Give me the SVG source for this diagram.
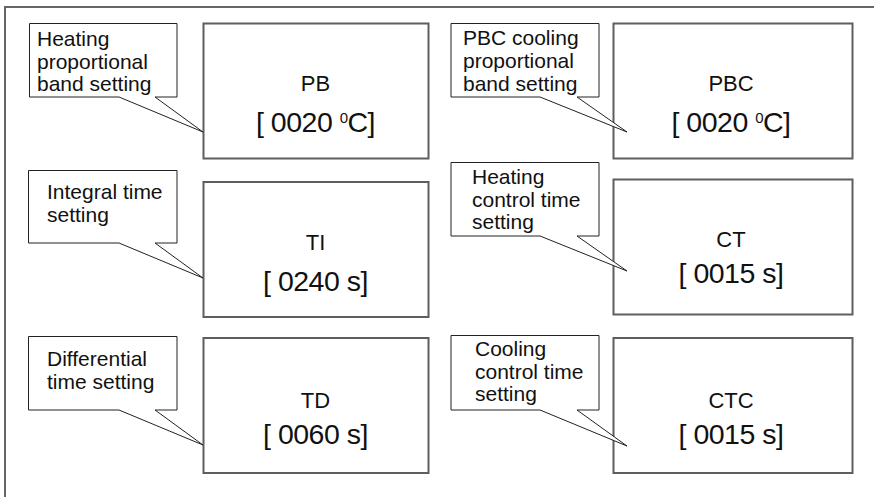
<svg xmlns="http://www.w3.org/2000/svg" width="874" height="497" viewBox="0 0 874 497">
<style>
.frame{fill:none;stroke:#666;stroke-width:2}
.box{fill:#fff;stroke:#5e5e5e;stroke-width:2}
.call{fill:#fff;stroke:#222;stroke-width:1}
.lbl{font-family:"Liberation Sans",Arial,Helvetica,sans-serif;font-size:21px;fill:#111}
.name{font-family:"Liberation Sans",Arial,Helvetica,sans-serif;font-size:22px;fill:#111;text-anchor:middle}
.val{font-family:"Liberation Sans",Arial,Helvetica,sans-serif;font-size:28.5px;letter-spacing:-0.5px;fill:#111;text-anchor:middle}
</style>
<rect width="874" height="497" fill="#fff"/>
<g id="frame">
<path class="frame" d="M5,497 V7 H874"/>
</g>
<g id="pb">
<rect class="box" x="203.5" y="23.5" width="225" height="135"/>
<text class="name" x="315.5" y="91">PB</text>
<text class="val" x="315.5" y="132">[ 0020 <tspan font-size="15" dy="-9">0</tspan><tspan dy="9">C]</tspan></text>
</g>
<g id="pbc">
<rect class="box" x="613.5" y="23.5" width="239" height="135"/>
<text class="name" x="731" y="91">PBC</text>
<text class="val" x="731" y="132">[ 0020 <tspan font-size="15" dy="-9">0</tspan><tspan dy="9">C]</tspan></text>
</g>
<g id="ti">
<rect class="box" x="203.5" y="182" width="225" height="135"/>
<text class="name" x="315.5" y="250">TI</text>
<text class="val" x="315.5" y="290.5">[ 0240 s]</text>
</g>
<g id="ct">
<rect class="box" x="613.5" y="179.5" width="239" height="135"/>
<text class="name" x="731" y="247">CT</text>
<text class="val" x="731" y="283">[ 0015 s]</text>
</g>
<g id="td">
<rect class="box" x="203.5" y="338" width="225" height="135"/>
<text class="name" x="315.5" y="408">TD</text>
<text class="val" x="315.5" y="443.5">[ 0060 s]</text>
</g>
<g id="ctc">
<rect class="box" x="613.5" y="338" width="239" height="135"/>
<text class="name" x="731" y="408">CTC</text>
<text class="val" x="731" y="444">[ 0015 s]</text>
</g>
<g id="connectors">
<g id="callout-pb">
<path class="call" d="M29.5,23.5 H177 V97 H155 L203,132 L119,97 H29.5 Z"/>
<text class="lbl" x="37" y="46">Heating</text>
<text class="lbl" x="37" y="68.5">proportional</text>
<text class="lbl" x="37" y="91">band setting</text>
</g>
<g id="callout-pbc">
<path class="call" d="M451,23.5 H599 V97 H577 L627,132 L540,97 H451 Z"/>
<text class="lbl" x="463" y="45">PBC cooling</text>
<text class="lbl" x="463" y="68">proportional</text>
<text class="lbl" x="463" y="91">band setting</text>
</g>
<g id="callout-ti">
<path class="call" d="M28.5,170.5 H177 V243 H155 L203,278 L119,243 H28.5 Z"/>
<text class="lbl" x="47" y="199">Integral time</text>
<text class="lbl" x="47" y="222">setting</text>
</g>
<g id="callout-ct">
<path class="call" d="M451,162.5 H599 V236 H577 L627,271 L540,236 H451 Z"/>
<text class="lbl" x="472" y="184">Heating</text>
<text class="lbl" x="472" y="206.5">control time</text>
<text class="lbl" x="472" y="229">setting</text>
</g>
<g id="callout-td">
<path class="call" d="M28.5,336.5 H177 V410 H155 L203,445 L119,410 H28.5 Z"/>
<text class="lbl" x="47" y="366">Differential</text>
<text class="lbl" x="47" y="389">time setting</text>
</g>
<g id="callout-ctc">
<path class="call" d="M451,335.5 H599 V410 H577 L627,446 L540,410 H451 Z"/>
<text class="lbl" x="475" y="356">Cooling</text>
<text class="lbl" x="475" y="378.5">control time</text>
<text class="lbl" x="475" y="401">setting</text>
</g>
</g>
</svg>
